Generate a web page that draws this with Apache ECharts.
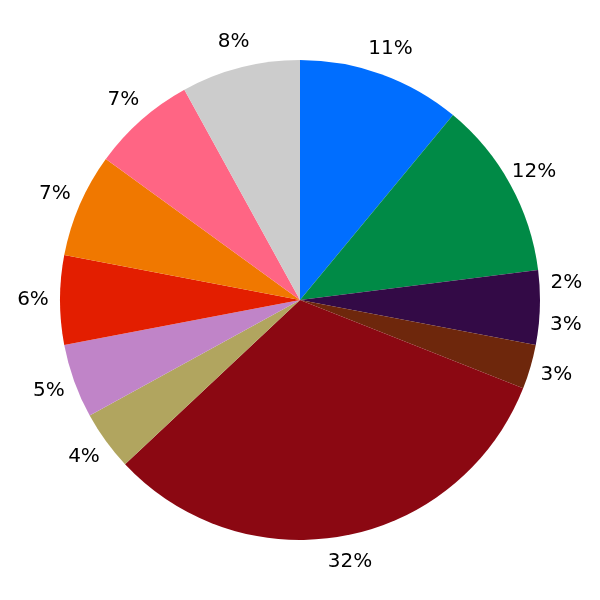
<!DOCTYPE html>
<html>
<head>
<meta charset="utf-8">
<script src="https://cdn.jsdelivr.net/npm/echarts@6/dist/echarts.min.js"></script>
<style>html,body{margin:0;padding:0;background:#fff}#c{width:600px;height:600px}</style>
</head>
<body>
<div id="c"></div>
<script>
const categories = ['A','B','C','D','E','F','G','H','I','J','K','L'];
const values = [11, 12, 2, 3, 3, 32, 4, 5, 6, 7, 7, 8];
const colors = ['#006EFF','#008A46','#330A46','#330A46','#6E270C','#8B0812','#B1A55F','#C084C8','#E31E00','#F07800','#FF6584','#CCCCCC'];

const chart = echarts.init(document.getElementById('c'), null, {renderer:'canvas'});
const mainData = categories.map((c,i)=>({name:c, value:values[i], itemStyle:{color:colors[i]}}));
const labelData = categories.map((c,i)=>({name:c, value:values[i]}));
chart.setOption({
  animation:false,
  series:[
    {type:'pie', center:[300,300], radius:[0,240], startAngle:90, clockwise:true,
     avoidLabelOverlap:false, silent:true, label:{show:false}, labelLine:{show:false},
     itemStyle:{borderWidth:0}, data:mainData},
    {type:'pie', center:[300,300], radius:[246,282], startAngle:90, clockwise:true,
     avoidLabelOverlap:false, silent:true,
     itemStyle:{color:'rgba(0,0,0,0)', borderWidth:0},
     label:{show:true, position:'inside', color:'#000', fontFamily:'DejaVu Sans', fontSize:20,
       formatter:p=>Math.round(p.percent)+'%'},
     labelLine:{show:false}, data:labelData}
  ]
});
</script>
</body>
</html>
